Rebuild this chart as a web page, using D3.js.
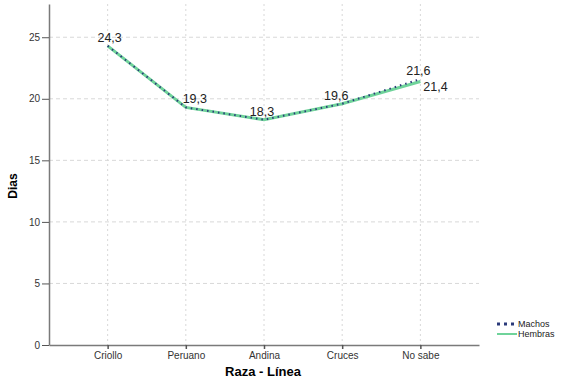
<!DOCTYPE html>
<html>
<head>
<meta charset="utf-8">
<script src="https://cdn.jsdelivr.net/npm/d3@7"></script>
<style>
body { margin: 0; background: #fff; }
text { font-family: "Liberation Sans", Arial, sans-serif; }
</style>
</head>
<body>
<div id="chart"></div>
<script>
var width = 570;
var height = 379;

// data
var categories = ["Criollo", "Peruano", "Andina", "Cruces", "No sabe"];
var machos = [24.3, 19.3, 18.3, 19.6, 21.6];
var hembras = [24.3, 19.3, 18.3, 19.6, 21.4];
var yTicks = [0, 5, 10, 15, 20, 25];

var svg = d3.select("#chart")
  .append("svg")
  .attr("width", width)
  .attr("height", height);

var yScale = d3.scaleLinear()
  .domain([0, 27.7])
  .range([345, 4]);

var xScale = d3.scalePoint()
  .domain(categories)
  .range([49, 479])
  .padding(0.75);

// grid lines
svg.append("g")
  .selectAll("line")
  .data(yTicks.filter(d => d > 0))
  .enter()
  .append("line")
  .attr("x1", 49)
  .attr("x2", 479)
  .attr("y1", d => yScale(d))
  .attr("y2", d => yScale(d))
  .attr("stroke", "#d8d8d8")
  .attr("stroke-dasharray", "4,3")

svg.append("g")
  .selectAll("line")
  .data(categories)
  .enter()
  .append("line")
  .attr("x1", d => xScale(d))
  .attr("x2", d => xScale(d))
  .attr("y1", 4)
  .attr("y2", 345)
  .attr("stroke", "#d8d8d8")
  .attr("stroke-dasharray", "2,3")

// axes
var y_axis = d3.axisLeft(yScale)
  .tickValues(yTicks)
  .tickSize(7)
  .tickSizeOuter(0)
  .tickFormat(d => d);

var x_axis = d3.axisBottom(xScale)
  .tickSize(4)
  .tickSizeOuter(0);

var gy = svg.append("g")
  .attr("transform", "translate(49,0)")
  .call(y_axis);

var gx = svg.append("g")
  .attr("transform", "translate(0,345)")
  .call(x_axis);

gy.select(".domain").attr("stroke", "#7a7a7a").attr("stroke-width", 1.5);
gx.select(".domain").attr("stroke", "#7a7a7a").attr("stroke-width", 1.5);
gy.selectAll(".tick line").attr("stroke", "#555");
gx.selectAll(".tick line").attr("stroke", "#555").attr("stroke-width", 1.5);
gy.selectAll(".tick text")
  .attr("font-size", "10px")
  .attr("fill", "#333")
  .attr("x", -9);
gx.selectAll(".tick text")
  .attr("font-size", "10px")
  .attr("fill", "#333")
  .attr("y", 7);

// axis titles
svg.append("text")
  .attr("transform", "translate(17,186) rotate(-90)")
  .attr("text-anchor", "middle")
  .attr("font-size", "12px")
  .attr("font-weight", "bold")
  .text("Dias");

svg.append("text")
  .attr("x", 263)
  .attr("y", 376)
  .attr("text-anchor", "middle")
  .attr("font-size", "13px")
  .attr("font-weight", "bold")
  .text("Raza - Línea");

// lines
var line = d3.line()
  .x((d, i) => xScale(categories[i]))
  .y(d => yScale(d));

svg.append("path")
  .datum(hembras)
  .attr("fill", "none")
  .attr("stroke", "#6fd39a")
  .attr("stroke-width", 3)
  .attr("d", line);

svg.append("path")
  .datum(machos)
  .attr("fill", "none")
  .attr("stroke", "#2b3a7a")
  .attr("stroke-width", 2)
  .attr("stroke-dasharray", "1.5,4")
  .attr("d", line);

// value labels
var fmt = d => d.toFixed(1).replace(".", ",");

svg.append("g")
  .selectAll("text")
  .data(machos)
  .enter()
  .append("text")
  .attr("x", (d, i) => xScale(categories[i]) + (i == 0 ? 2 : (i == 1 ? 9 : (i == 3 ? -6 : -2))))
  .attr("y", d => yScale(d) - 4)
  .attr("text-anchor", "middle")
  .attr("font-size", "12.5px")
  .attr("fill", "#222")
  .text(fmt);

svg.append("g")
  .selectAll("text")
  .data(hembras.map((d, i) => ({ v: d, i: i })).filter(d => d.v != machos[d.i]))
  .enter()
  .append("text")
  .attr("x", d => xScale(categories[d.i]) + 3)
  .attr("y", d => yScale(d.v) + 9)
  .attr("font-size", "12.5px")
  .attr("fill", "#222")
  .text(d => fmt(d.v));

// legend
var legend = svg.append("g").attr("transform", "translate(497,324)");

legend.append("line")
  .attr("x1", 0).attr("x2", 19)
  .attr("y1", 0).attr("y2", 0)
  .attr("stroke", "#2b3a7a")
  .attr("stroke-width", 3)
  .attr("stroke-dasharray", "3,4");

legend.append("text")
  .attr("x", 21).attr("y", 3)
  .attr("font-size", "9px")
  .attr("fill", "#222")
  .text("Machos");

legend.append("line")
  .attr("x1", 0).attr("x2", 20)
  .attr("y1", 10).attr("y2", 10)
  .attr("stroke", "#6fd39a")
  .attr("stroke-width", 2);

legend.append("text")
  .attr("x", 21).attr("y", 13)
  .attr("font-size", "9px")
  .attr("fill", "#222")
  .text("Hembras");
</script>
</body>
</html>
